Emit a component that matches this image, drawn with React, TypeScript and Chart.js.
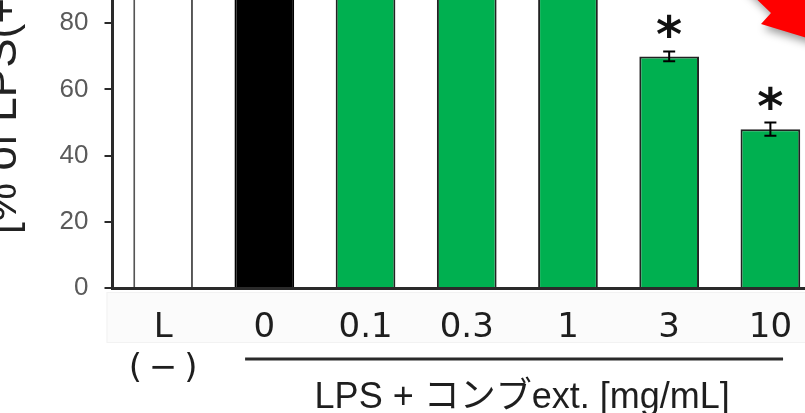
import React, { useEffect, useRef } from 'react';
import { Chart, registerables } from 'chart.js';

Chart.register(...registerables);

// ---- data ----
const categories: (string | string[])[] = [['L', '(\u2009\u2212\u2009)'], '0', '0.1', '0.3', '1', '3', '10'];
const values = [95, 100, 98, 96, 95, 70, 48];
const errors = [2, 2, 2, 2, 2, 1.5, 2];
const significant = [false, false, false, false, false, true, true];
const barColors = ['#ffffff', '#000000', '#00b050', '#00b050', '#00b050', '#00b050', '#00b050'];
const barBorders = ['#555555', '#000000', '#222222', '#222222', '#222222', '#222222', '#222222'];
const yMin = 0;
const yMax = 112;
const yStep = 20;
const yTitle = '[% of LPS(+)]';
const groupLabel = 'LPS + コンブext. [mg/mL]';
const groupFirst = 1;
const groupLast = 6;

// canvas placement (the chart is larger than the visible window, as in the cropped reference)
const OX = -24;
const OY = -100;
const CW = 850;
const CH = 520;

export default function App() {
  const ref = useRef<HTMLCanvasElement>(null);

  useEffect(() => {
    const canvas = ref.current!;

    const decorations = {
      id: 'decorations',
      beforeDraw(chart: any) {
        const { ctx, chartArea } = chart;
        ctx.save();
        ctx.fillStyle = '#fbfbfb';
        ctx.strokeStyle = '#f2f2f2';
        ctx.lineWidth = 1;
        const top = chartArea.bottom + 4;
        const left = chartArea.left - 6;
        ctx.fillRect(left, top, CW - left, 50);
        ctx.strokeRect(left + 0.5, top + 0.5, CW - left, 50);
        ctx.restore();
      },
      afterDatasetsDraw(chart: any) {
        const { ctx } = chart;
        const x = chart.scales.x;
        const y = chart.scales.y;
        ctx.save();
        ctx.strokeStyle = '#000';
        ctx.lineWidth = 2;
        values.forEach((v, i) => {
          const px = x.getPixelForValue(i);
          const yTop = y.getPixelForValue(v + errors[i]);
          const yBot = y.getPixelForValue(v - errors[i]);
          ctx.beginPath();
          ctx.moveTo(px, yTop);
          ctx.lineTo(px, yBot);
          ctx.moveTo(px - 6, yTop);
          ctx.lineTo(px + 6, yTop);
          ctx.moveTo(px - 6, yBot);
          ctx.lineTo(px + 6, yBot);
          ctx.stroke();
          if (significant[i]) {
            ctx.fillStyle = '#111';
            ctx.font = 'bold 50px "DejaVu Sans"';
            ctx.textAlign = 'center';
            ctx.textBaseline = 'alphabetic';
            const m = ctx.measureText('*');
            const h = m.actualBoundingBoxAscent + m.actualBoundingBoxDescent;
            const cy = yTop - 25;
            ctx.fillText('*', px, cy + h / 2 - m.actualBoundingBoxDescent);
          }
        });
        ctx.restore();
      },
      afterDraw(chart: any) {
        const { ctx } = chart;
        const x = chart.scales.x;
        const cat = x.getPixelForValue(1) - x.getPixelForValue(0);
        const x1 = x.getPixelForValue(groupFirst) - 0.19 * cat;
        const x2 = x.getPixelForValue(groupLast) + 0.125 * cat;
        const ly = chart.chartArea.bottom + 71;
        ctx.save();
        ctx.strokeStyle = '#2a2a2a';
        ctx.lineWidth = 3;
        ctx.beginPath();
        ctx.moveTo(x1, ly);
        ctx.lineTo(x2, ly);
        ctx.stroke();
        ctx.fillStyle = '#1e1e1e';
        ctx.font = '36px "Liberation Sans", "Noto Sans CJK JP"';
        ctx.textAlign = 'center';
        ctx.textBaseline = 'alphabetic';
        ctx.fillText(groupLabel, (x1 + x2) / 2 + 0.08 * cat, ly + 49);

        // red arrow pointer (decoration in the top right corner)
        const P = (px: number, py: number): [number, number] => [px - OX, py - OY];
        const pts = [P(720, -36), P(771, 13), P(761, 24), P(850, 51), P(830, -40)];
        ctx.shadowColor = 'rgba(0,0,0,0.4)';
        ctx.shadowBlur = 8;
        ctx.shadowOffsetX = 3;
        ctx.shadowOffsetY = 5;
        ctx.fillStyle = '#ff0000';
        ctx.beginPath();
        pts.forEach(([a, b], k) => (k === 0 ? ctx.moveTo(a, b) : ctx.lineTo(a, b)));
        ctx.closePath();
        ctx.fill();
        ctx.restore();
      },
    };

    const chart = new Chart(canvas, {
      type: 'bar',
      data: {
        labels: categories,
        datasets: [
          {
            data: values,
            backgroundColor: barColors,
            borderColor: barBorders,
            borderWidth: 2,
            barPercentage: 0.59,
            categoryPercentage: 1,
          },
        ],
      },
      options: {
        animation: false,
        responsive: false,
        maintainAspectRatio: false,
        devicePixelRatio: 1,
        layout: { padding: { left: 1, top: 17.4, right: 5, bottom: 0 } },
        plugins: { legend: { display: false }, tooltip: { enabled: false } },
        scales: {
          x: {
            grid: { display: false },
            border: { display: true, color: '#2a2a2a', width: 3 },
            ticks: {
              color: '#1e1e1e',
              font: { family: '"DejaVu Sans"', size: 34, lineHeight: 1.2 },
              padding: 12,
              maxRotation: 0,
              autoSkip: false,
            },
            afterFit: (s: any) => {
              s.height = 132;
              s.paddingLeft = 0;
              s.paddingRight = 0;
              s.paddingTop = 0;
              s.paddingBottom = 0;
            },
          },
          y: {
            min: yMin,
            max: yMax,
            grid: { display: true, drawOnChartArea: false, drawTicks: true, tickLength: 8, color: '#2a2a2a', lineWidth: 2 },
            border: { display: true, color: '#2a2a2a', width: 3 },
            ticks: {
              stepSize: yStep,
              color: '#5a5a5a',
              font: { family: '"Liberation Sans"', size: 26 },
              padding: 16,
            },
            title: {
              display: true,
              text: yTitle,
              color: '#222',
              font: { family: '"Liberation Sans"', size: 44, lineHeight: 1.2 },
              padding: 0,
            },
            afterFit: (s: any) => {
              s.width = 135.5;
              s.paddingLeft = 0;
              s.paddingRight = 0;
              s.paddingTop = 0;
              s.paddingBottom = 0;
            },
          },
        },
      },
      plugins: [decorations],
    });
    return () => chart.destroy();
  }, []);

  return (
    <div style={{ position: 'fixed', left: 0, top: 0, width: 805, height: 413, overflow: 'hidden', background: '#fff' }}>
      <canvas
        ref={ref}
        width={CW}
        height={CH}
        style={{ position: 'absolute', left: OX, top: OY, width: CW, height: CH }}
      />
    </div>
  );
}
